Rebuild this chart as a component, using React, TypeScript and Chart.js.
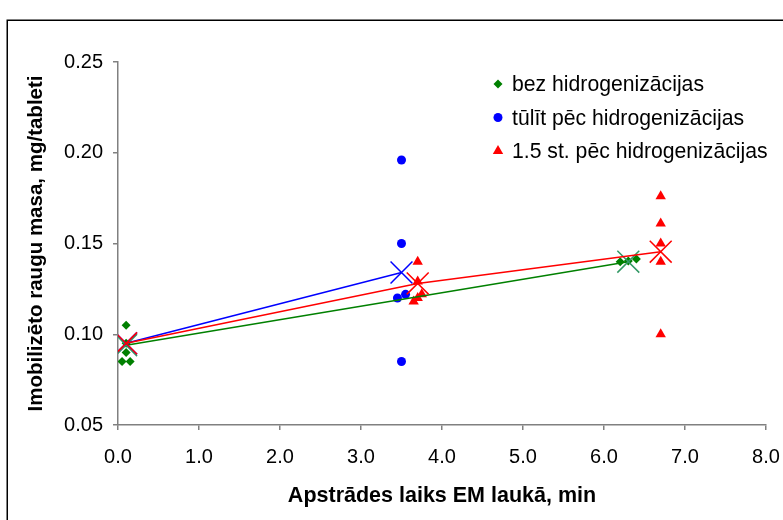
import React, { useEffect, useRef } from 'react';
import { Chart, registerables } from 'chart.js';

Chart.register(...registerables);

// ---- data ----
const xTickLabels = ['0.0', '1.0', '2.0', '3.0', '4.0', '5.0', '6.0', '7.0', '8.0'];
const yTickLabels = ['0.05', '0.10', '0.15', '0.20', '0.25'];

const seriesNames = ['bez hidrogenizācijas', 'tūlīt pēc hidrogenizācijas', '1.5 st. pēc hidrogenizācijas'];

const bezX = [0.1, 0.1, 0.1, 0.05, 0.15, 6.2, 6.3, 6.4];
const bezY = [0.105, 0.095, 0.09, 0.085, 0.085, 0.14, 0.1404, 0.1415];

const tulitX = [3.5, 3.5, 3.45, 3.55, 3.5];
const tulitY = [0.196, 0.15, 0.12, 0.122, 0.085];

const pecX = [3.7, 3.7, 3.75, 3.7, 3.65, 6.7, 6.7, 6.7, 6.7, 6.7];
const pecY = [0.14, 0.129, 0.122, 0.12, 0.118, 0.176, 0.161, 0.15, 0.14, 0.1];

const bezMeanX = [0.1, 6.3];
const bezMeanY = [0.094, 0.14];
const tulitMeanX = [0.1, 3.5];
const tulitMeanY = [0.095, 0.134];
const pecMeanX = [0.1, 3.7, 6.7];
const pecMeanY = [0.095, 0.128, 0.1455];

const GREEN = '#008000';
const GREEN_CROSS = '#339966';
const BLUE = '#0000ff';
const RED = '#ff0000';
const FONT = '"Liberation Sans", Arial, sans-serif';

const pts = (xs: number[], ys: number[]) => xs.map((x, i) => ({ x, y: ys[i] }));

const frameAndLegend = {
  id: 'frameAndLegend',
  afterDraw(chart: any) {
    const ctx = chart.ctx as CanvasRenderingContext2D;
    ctx.save();
    // outer frame
    ctx.strokeStyle = '#000';
    ctx.lineWidth = 1.5;
    ctx.strokeRect(7.25, 20.25, 1000, 1000);

    // legend
    const styles = [
      { kind: 'diamond', color: GREEN },
      { kind: 'circle', color: BLUE },
      { kind: 'triangle', color: RED },
    ];
    ctx.font = `21.2px ${FONT}`;
    ctx.textAlign = 'left';
    ctx.textBaseline = 'alphabetic';
    seriesNames.forEach((name, i) => {
      const base = 91 + i * 33.5;
      const mx = 498;
      const my = base - 7;
      const st = styles[i];
      ctx.fillStyle = st.color;
      ctx.beginPath();
      if (st.kind === 'diamond') {
        ctx.moveTo(mx, my - 4.5);
        ctx.lineTo(mx + 4.5, my);
        ctx.lineTo(mx, my + 4.5);
        ctx.lineTo(mx - 4.5, my);
        ctx.closePath();
      } else if (st.kind === 'circle') {
        ctx.arc(mx, my, 4.5, 0, Math.PI * 2);
      } else {
        const r = 6;
        ctx.moveTo(mx, my - r);
        ctx.lineTo(mx + r * Math.sin((2 * Math.PI) / 3), my - r * Math.cos((2 * Math.PI) / 3));
        ctx.lineTo(mx + r * Math.sin((4 * Math.PI) / 3), my - r * Math.cos((4 * Math.PI) / 3));
        ctx.closePath();
      }
      ctx.fill();
      ctx.fillStyle = '#000';
      ctx.fillText(name, 512, base);
    });
    ctx.restore();
  },
};

export default function App() {
  const ref = useRef<HTMLCanvasElement | null>(null);

  useEffect(() => {
    if (!ref.current) return;
    Chart.defaults.font.family = FONT;
    const chart = new Chart(ref.current, {
      type: 'scatter',
      data: {
        datasets: [
          {
            type: 'line',
            label: 'pec mean',
            data: pts(pecMeanX, pecMeanY),
            borderColor: RED,
            borderWidth: 1.5,
            pointStyle: 'crossRot',
            pointRadius: 15.5,
            pointBorderColor: RED,
            pointBorderWidth: 1.5,
            fill: false,
            tension: 0,
          } as any,
          {
            type: 'line',
            label: 'tulit mean',
            data: pts(tulitMeanX, tulitMeanY),
            borderColor: BLUE,
            borderWidth: 1.5,
            pointStyle: 'crossRot',
            pointRadius: 15.5,
            pointBorderColor: BLUE,
            pointBorderWidth: 1.5,
            fill: false,
            tension: 0,
          } as any,
          {
            type: 'line',
            label: 'bez mean',
            data: pts(bezMeanX, bezMeanY),
            borderColor: GREEN,
            borderWidth: 1.5,
            pointStyle: 'crossRot',
            pointRadius: 15.5,
            pointBorderColor: GREEN_CROSS,
            pointBorderWidth: 1.5,
            fill: false,
            tension: 0,
          } as any,
          {
            label: seriesNames[2],
            data: pts(pecX, pecY),
            pointStyle: 'triangle',
            pointRadius: 6,
            backgroundColor: RED,
            borderColor: RED,
            borderWidth: 0,
          },
          {
            label: seriesNames[1],
            data: pts(tulitX, tulitY),
            pointStyle: 'circle',
            pointRadius: 4.5,
            backgroundColor: BLUE,
            borderColor: BLUE,
            borderWidth: 0,
          },
          {
            label: seriesNames[0],
            data: pts(bezX, bezY),
            pointStyle: 'rectRot',
            pointRadius: 4.5,
            backgroundColor: GREEN,
            borderColor: GREEN,
            borderWidth: 0,
          },
        ],
      },
      options: {
        animation: false,
        responsive: true,
        maintainAspectRatio: false,
        layout: { padding: { left: 0, top: 62, right: 0, bottom: 0 } },
        plugins: {
          legend: { display: false },
          tooltip: { enabled: false },
          title: { display: false },
        },
        scales: {
          x: {
            type: 'linear',
            min: 0,
            max: 8,
            afterFit: (s: any) => {
              s.height = 95;
              s.paddingRight = 11;
              s.paddingLeft = 0;
            },
            ticks: {
              stepSize: 1,
              color: '#000',
              font: { size: 20 },
              padding: 15,
              maxRotation: 0,
              callback: (_v: any, i: number) => xTickLabels[i],
            },
            grid: { drawOnChartArea: false, drawTicks: true, tickLength: 5, color: '#808080', lineWidth: 1.5 },
            border: { color: '#808080', width: 1.5 },
            title: {
              display: true,
              text: 'Apstrādes laiks EM laukā, min',
              color: '#000',
              font: { size: 21.5, weight: 'bold' },
              padding: { top: 0, bottom: 11 },
            },
          },
          y: {
            type: 'linear',
            min: 0.05,
            max: 0.25,
            afterFit: (s: any) => {
              s.width = 118;
            },
            ticks: {
              stepSize: 0.05,
              color: '#000',
              font: { size: 20 },
              padding: 10,
              callback: (_v: any, i: number) => yTickLabels[i],
            },
            grid: { drawOnChartArea: false, drawTicks: true, tickLength: 5, color: '#808080', lineWidth: 1.5 },
            border: { color: '#808080', width: 1.5 },
            title: {
              display: true,
              text: 'Imobilizēto raugu masa, mg/tableti',
              color: '#000',
              font: { size: 20.5, weight: 'bold' },
              padding: { top: 24, bottom: 0 },
            },
          },
        },
      },
      plugins: [frameAndLegend],
    });
    return () => chart.destroy();
  }, []);

  return (
    <div style={{ position: 'absolute', left: 0, top: 0, width: 783, height: 520, background: '#fff' }}>
      <canvas ref={ref} />
    </div>
  );
}
